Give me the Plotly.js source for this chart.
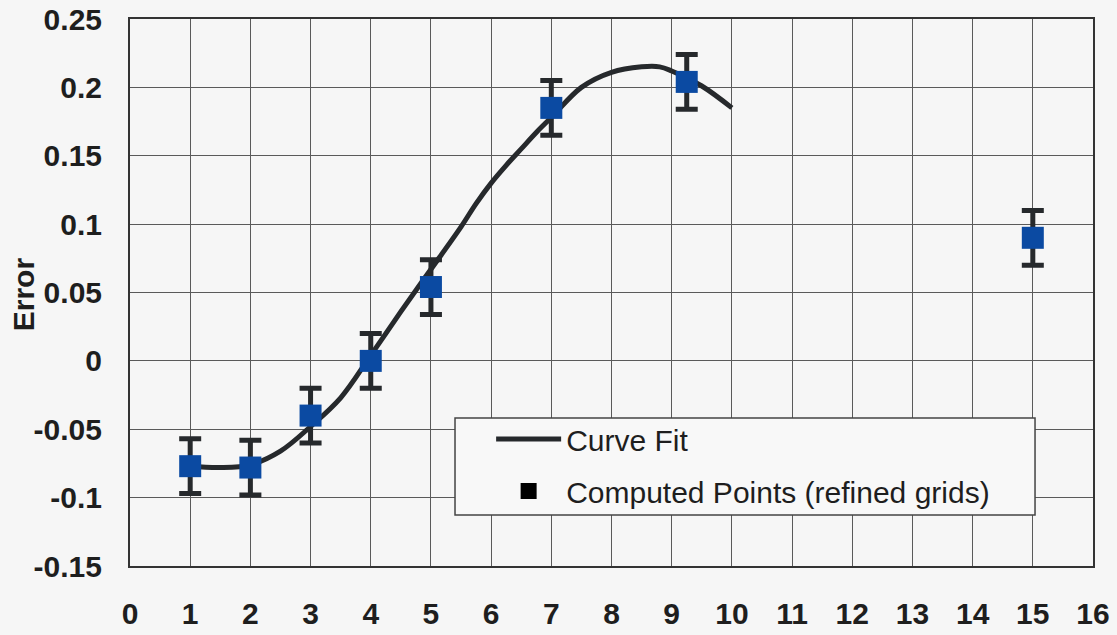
<!DOCTYPE html>
<html>
<head>
<meta charset="utf-8">
<script src="https://cdn.plot.ly/plotly-3.0.1.min.js"></script>
<style>
  html, body { margin: 0; padding: 0; background: #f6f6f6; }
  #chart { width: 1117px; height: 635px; }
</style>
</head>
<body>
<div id="chart"></div>
<script>
// Curve fit through the error estimates
const fitX = [1, 1.5, 2, 2.5, 3, 3.5, 4, 4.5, 5, 5.5, 5.75, 6, 6.25, 6.5, 6.75, 7, 7.5, 8, 8.5, 8.8, 9, 9.5, 10];
const fitY = [-0.077, -0.078, -0.076, -0.066, -0.048, -0.027, 0.004, 0.036, 0.067, 0.098,
              0.115, 0.130, 0.143, 0.155, 0.167, 0.178, 0.200, 0.211, 0.215, 0.215, 0.212, 0.201, 0.185];

// Computed points on refined grids, with their uncertainty
const pointX = [1, 2, 3, 4, 5, 7, 9.25, 15];
const pointY = [-0.077, -0.078, -0.040, 0.000, 0.054, 0.185, 0.204, 0.090];
const pointErr = [0.02, 0.02, 0.02, 0.02, 0.02, 0.02, 0.02, 0.02];

// Axis ticks
const xTickVals = [0, 1, 2, 3, 4, 5, 6, 7, 8, 9, 10, 11, 12, 13, 14, 15, 16];
const xTickText = ['0', '1', '2', '3', '4', '5', '6', '7', '8', '9', '10', '11', '12', '13', '14', '15', '16'];
const yTickVals = [-0.15, -0.1, -0.05, 0, 0.05, 0.1, 0.15, 0.2, 0.25];
const yTickText = ['-0.15', '-0.1', '-0.05', '0', '0.05', '0.1', '0.15', '0.2', '0.25'];

const ink = '#26292c';
const blue = '#0b4aa2';
const gridCol = '#5a5a5a';
const fontFamily = 'Liberation Sans, Arial, sans-serif';

const traces = [
  {
    x: fitX, y: fitY,
    type: 'scatter', mode: 'lines',
    name: 'Curve Fit',
    legendgroup: 'fit',
    line: { color: ink, width: 5, shape: 'spline', smoothing: 1 },
    hoverinfo: 'skip'
  },
  {
    x: pointX, y: pointY,
    type: 'scatter', mode: 'markers',
    name: 'Computed Points (refined grids)',
    legendgroup: 'pts',
    showlegend: false,
    marker: { symbol: 'square', size: 22, color: blue },
    error_y: { type: 'data', array: pointErr, visible: true, color: ink, thickness: 5, width: 11 }
  },
  {
    // legend key for the computed points
    x: [null], y: [null],
    type: 'scatter', mode: 'markers',
    name: 'Computed Points (refined grids)',
    legendgroup: 'pts',
    marker: { symbol: 'square', size: 22, color: '#000000', line: { width: 0 } }
  }
];

const tickFont = { family: fontFamily, size: 30, color: '#1e1e1e', weight: 'bold' };

const layout = {
  width: 1117, height: 635,
  margin: { l: 130, r: 24, t: 19, b: 69 },
  paper_bgcolor: '#f6f6f6',
  plot_bgcolor: '#f6f6f6',
  showlegend: true,
  xaxis: {
    range: [0, 16],
    tickvals: xTickVals, ticktext: xTickText,
    tickfont: tickFont,
    ticks: '', ticklabelstandoff: 20,
    showgrid: true, gridcolor: gridCol, gridwidth: 1,
    zeroline: false,
    showline: true, linecolor: '#333', linewidth: 2, mirror: true
  },
  yaxis: {
    range: [-0.15, 0.25],
    tickvals: yTickVals, ticktext: yTickText,
    tickfont: tickFont,
    ticks: '', ticklabelstandoff: 20,
    showgrid: true, gridcolor: gridCol, gridwidth: 1,
    zeroline: false,
    showline: true, linecolor: '#333', linewidth: 2, mirror: true
  },
  annotations: [
    { text: 'Error', xref: 'paper', yref: 'paper', x: -0.111, y: 0.497,
      xanchor: 'center', yanchor: 'middle', textangle: -90, showarrow: false,
      font: { family: fontFamily, size: 30, color: '#1e1e1e', weight: 'bold' } }
  ],
  shapes: [
    { type: 'rect', xref: 'paper', yref: 'paper', layer: 'above',
      x0: 0.3375, x1: 0.9398, y0: 0.0932, y1: 0.2706,
      fillcolor: '#f8f8f8', line: { color: '#444', width: 1.5 } }
  ],
  legend: {
    x: 0.375, y: 0.2797, xanchor: 'left', yanchor: 'top',
    bgcolor: 'rgba(0,0,0,0)', borderwidth: 0,
    itemwidth: 65,
    tracegroupgap: 10,
    font: { family: fontFamily, size: 30, color: '#1e1e1e' }
  }
};

Plotly.newPlot('chart', traces, layout, { displayModeBar: false, staticPlot: true });
</script>
</body>
</html>
